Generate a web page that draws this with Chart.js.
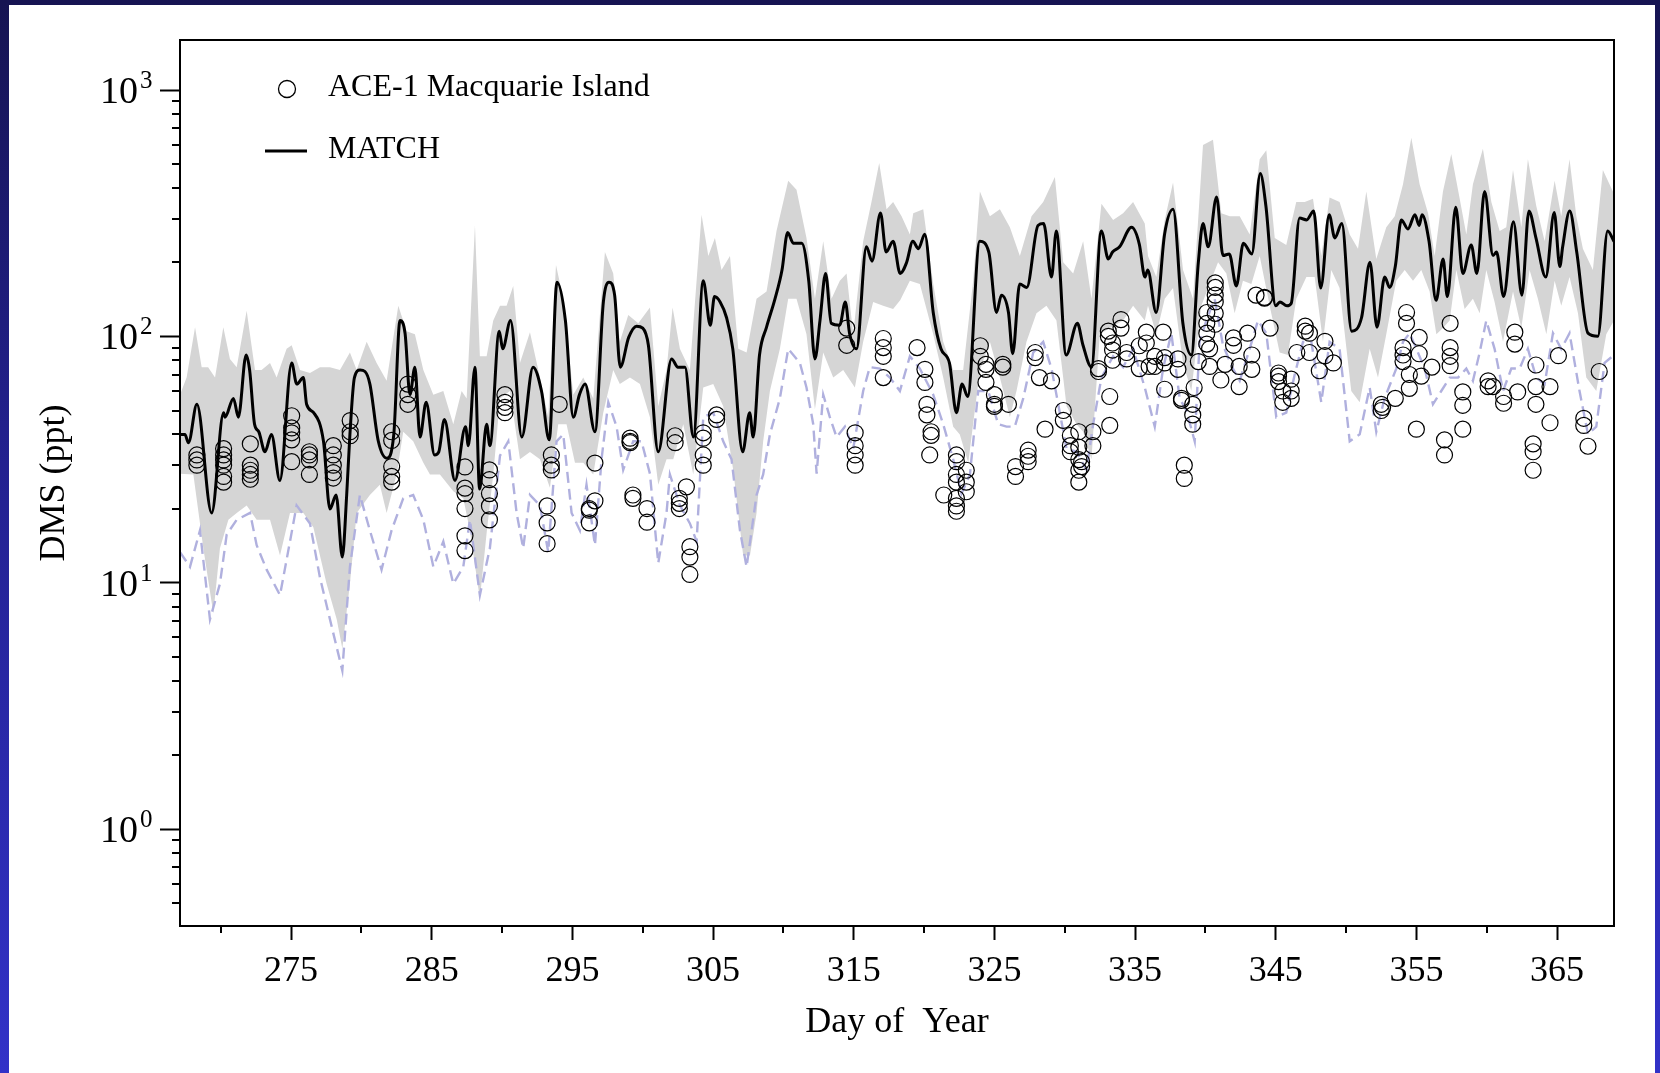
<!DOCTYPE html>
<html>
<head>
<meta charset="utf-8">
<title>DMS at Macquarie Island</title>
<script src="https://cdn.jsdelivr.net/npm/chart.js@4.4.1/dist/chart.umd.min.js"></script>
<style>
  html, body { margin: 0; padding: 0; }
  body {
    width: 1660px; height: 1073px; overflow: hidden; position: relative;
    background: linear-gradient(to bottom, #161452 0%, #22208c 40%, #3232c8 100%);
  }
  #panel { position: absolute; left: 9px; top: 5px; width: 1646px; height: 1068px; background: #fff; }
  canvas { display: block; }
</style>
</head>
<body>
<div id="panel"><canvas id="dms-chart" width="1646" height="1068"></canvas></div>
<script>
// axis ranges and ticks
const xMin = 267.1
const xMax = 369.05
const yMin = 0.404
const yMax = 1596
const dayTicks = [275, 285, 295, 305, 315, 325, 335, 345, 355, 365]
const dayMinorTicks = [270, 280, 290, 300, 310, 320, 330, 340, 350, 360]
const dmsTicks = [1, 10, 100, 1000]
const dmsTickExponents = ['0', '1', '2', '3']
const dmsMinorTicks = [0.5, 0.6, 0.7, 0.8, 0.9, 2, 3, 4, 5, 6, 7, 8, 9,
  20, 30, 40, 50, 60, 70, 80, 90, 200, 300, 400, 500, 600, 700, 800, 900]
const legendLabels = ['ACE-1 Macquarie Island', 'MATCH']

// MATCH model DMS, [day of year, ppt]
const matchModel = [
  [267.1, 40], [267.45, 40], [267.7, 37], [268.3, 53], [269.35, 19.2], [270.2, 49], [270.3, 47], [270.9, 56],
  [271.25, 47], [271.8, 84], [272.05, 73], [272.4, 44], [272.7, 41], [273.14, 34], [273.6, 40], [274.2, 26],
  [275.04, 78], [275.4, 64], [275.87, 68], [276.1, 53], [276.6, 49], [277.3, 37.5], [277.76, 19.9], [278.2, 22.7],
  [278.64, 12.7], [278.95, 22.7], [279.18, 40], [279.5, 68], [279.9, 73], [280.25, 72], [280.6, 64], [281.2, 37.5],
  [281.8, 32], [282.3, 40], [282.74, 116], [283.1, 103], [283.45, 58], [283.8, 75], [284.16, 39], [284.6, 54],
  [285.2, 33], [285.5, 34], [285.9, 46], [286.65, 26], [287.4, 43], [287.6, 36], [288.07, 75], [288.4, 24],
  [288.9, 44], [289.13, 36], [289.8, 105], [290.04, 89], [290.6, 116], [291.4, 39], [292.2, 75], [292.8, 60],
  [293.35, 38], [293.9, 166], [294.5, 116], [295.06, 47], [295.5, 58], [295.9, 64], [296.6, 41], [297.2, 138],
  [297.6, 166], [298.0, 147], [298.4, 75], [299.0, 99], [299.56, 110], [300.0, 108], [300.4, 92], [301.1, 34],
  [302.05, 81], [302.5, 75], [303.0, 75], [303.6, 39], [304.3, 168], [304.8, 111], [305.1, 145], [305.5, 138],
  [305.96, 119], [306.4, 89], [307.1, 34], [307.6, 49], [307.85, 39], [308.3, 84], [308.8, 109], [309.4, 142],
  [309.9, 186], [310.3, 264], [310.7, 239], [311.3, 239], [311.8, 168], [312.24, 81], [312.6, 116], [313.0, 180],
  [313.4, 113], [314.0, 111], [314.4, 138], [314.7, 103], [315.2, 89], [315.9, 231], [316.3, 202], [316.9, 317],
  [317.3, 220], [317.8, 243], [318.3, 180], [318.75, 199], [319.2, 243], [319.6, 227], [320.05, 260], [320.65, 125],
  [321.2, 89], [321.8, 78], [322.3, 49], [322.7, 64], [323.1, 57], [323.96, 243], [324.6, 220], [325.15, 125],
  [325.5, 147], [326.0, 125], [326.3, 85], [326.8, 163], [327.3, 158], [328.1, 282], [328.5, 287], [329.06, 174],
  [329.4, 268], [330.1, 84], [330.9, 113], [331.3, 92], [331.9, 75], [332.6, 268], [333.1, 206], [333.4, 220],
  [333.9, 231], [334.75, 277], [335.3, 237], [335.7, 174], [335.9, 186], [336.5, 125], [337.1, 260], [337.7, 328],
  [338.4, 113], [339.0, 84], [339.5, 200], [339.83, 287], [340.2, 231], [340.8, 368], [341.25, 213], [341.7, 216],
  [342.2, 160], [342.7, 239], [343.3, 216], [343.9, 458], [344.3, 339], [345.0, 133], [345.3, 138], [345.8, 133],
  [346.1, 136], [346.7, 302], [347.2, 297], [347.7, 323], [348.2, 157], [348.8, 312], [349.2, 251], [349.7, 287],
  [350.4, 105], [351.1, 119], [351.7, 200], [352.2, 109], [352.75, 174], [353.1, 158], [353.5, 192], [353.93, 297],
  [354.4, 273], [354.9, 312], [355.2, 282], [355.4, 312], [355.9, 243], [356.4, 140], [356.9, 206], [357.2, 145],
  [357.8, 334], [358.3, 180], [358.9, 235], [359.3, 180], [359.85, 387], [360.45, 213], [360.7, 220], [361.2, 145],
  [361.9, 292], [362.5, 147], [363.0, 323], [363.5, 251], [364.2, 174], [364.8, 318], [365.2, 192], [365.4, 231],
  [365.9, 323], [366.4, 220], [367.2, 103], [367.9, 100], [368.6, 268], [369.05, 243]
]

// grey range, upper and lower edges
const rangeUpper = [
  [267.1, 58], [267.57, 68], [268.17, 109], [268.64, 75], [269.1, 75], [269.59, 68], [270.18, 109], [270.65, 81],
  [271.13, 75], [271.84, 127], [272.43, 73], [272.9, 73], [273.5, 78], [273.97, 68], [274.68, 89], [275.04, 92],
  [275.63, 73], [276.34, 71], [277.05, 75], [277.76, 75], [278.47, 73], [279.18, 86], [279.66, 73], [280.37, 95],
  [281.08, 78], [281.79, 66], [282.62, 133], [283.21, 105], [283.8, 102], [284.4, 73], [285.11, 58], [285.82, 60],
  [286.53, 44], [287.12, 60], [287.48, 56], [288.07, 282], [288.42, 83], [288.9, 83], [289.37, 116], [289.85, 133],
  [290.32, 133], [290.79, 160], [291.27, 78], [291.98, 104], [292.69, 68], [293.28, 47], [293.83, 195], [294.35, 142],
  [295.06, 58], [295.77, 68], [296.48, 56], [297.31, 220], [297.9, 180], [298.37, 95], [298.97, 122], [299.68, 113],
  [300.51, 131], [301.1, 52], [301.69, 73], [302.12, 131], [302.64, 89], [303.35, 73], [304.18, 312], [304.66, 212],
  [305.13, 251], [305.6, 186], [306.2, 212], [306.79, 89], [307.38, 86], [308.09, 142], [308.8, 152], [309.51, 268],
  [310.34, 428], [310.93, 394], [311.64, 251], [312.24, 142], [312.83, 243], [313.42, 142], [314.01, 168], [314.49, 180],
  [314.96, 102], [315.67, 243], [316.26, 351], [316.81, 506], [317.33, 328], [317.8, 351], [318.4, 307], [318.99, 259],
  [319.23, 316], [319.94, 328], [320.65, 163], [321.36, 95], [322.07, 73], [322.78, 73], [323.49, 168], [323.97, 387],
  [324.68, 307], [325.39, 328], [326.1, 277], [326.81, 212], [327.64, 307], [328.47, 351], [329.3, 443], [329.89, 200],
  [330.6, 180], [331.31, 243], [331.9, 142], [332.61, 345], [333.44, 297], [334.15, 316], [334.86, 351], [335.69, 287],
  [335.92, 212], [336.51, 174], [337.11, 297], [337.7, 421], [338.41, 186], [339.12, 142], [339.83, 598], [340.54, 628],
  [341.13, 316], [341.73, 307], [342.44, 307], [343.15, 259], [343.86, 524], [344.33, 569], [344.93, 251], [345.75, 235],
  [346.46, 351], [347.06, 351], [347.65, 362], [348.24, 212], [348.83, 366], [349.54, 351], [350.26, 259], [350.85, 227],
  [351.44, 387], [352.15, 206], [352.86, 277], [353.46, 307], [354.05, 414], [354.64, 640], [355.23, 414], [355.83, 316],
  [356.3, 212], [356.89, 387], [357.48, 550], [358.08, 362], [358.55, 259], [359.02, 414], [359.73, 578], [360.33, 351],
  [360.92, 268], [361.39, 277], [361.87, 473], [362.46, 277], [362.93, 524], [363.52, 339], [364.12, 243], [364.83, 428],
  [365.3, 307], [365.89, 524], [366.37, 307], [366.84, 227], [367.55, 186], [368.26, 473], [368.97, 387], [369.05, 387]
]
const rangeLower = [
  [267.1, 27.7], [268.05, 27.5], [268.76, 13.8], [269.47, 7.5], [269.94, 13.8], [270.54, 18], [271.13, 19.2], [271.84, 20.6],
  [272.55, 18], [273.5, 18], [274.21, 12.9], [274.92, 19.2], [275.87, 19.2], [276.58, 16.8], [277.52, 9.9], [278.24, 7.1],
  [278.64, 5.4], [279.18, 9.9], [279.66, 19.2], [280.6, 22.7], [281.31, 25], [281.79, 19.2], [282.5, 27.5], [282.97, 41],
  [283.68, 37.5], [284.4, 30.7], [284.87, 27.5], [285.58, 27.5], [286.53, 23.5], [287.24, 22], [287.71, 16.3], [288.42, 8.6],
  [288.9, 15.9], [289.37, 27.5], [289.85, 56], [290.56, 60], [291.27, 31.7], [291.98, 33.9], [292.69, 31.7], [293.4, 24.3],
  [293.99, 44], [294.58, 44], [295.18, 30.7], [295.77, 30.7], [296.48, 27.5], [297.19, 49], [297.9, 73], [298.37, 64],
  [299.09, 68], [299.8, 64], [300.51, 47], [301.1, 25], [301.69, 31.7], [302.17, 31.7], [302.88, 44], [303.59, 27.5],
  [304.3, 62], [305.01, 64], [305.72, 52], [306.43, 28.7], [307.14, 12.9], [307.62, 12.9], [308.09, 19.2], [308.56, 37.5],
  [309.04, 60], [309.75, 89], [310.34, 142], [310.93, 142], [311.64, 102], [312.24, 50.6], [312.83, 86], [313.54, 68],
  [314.25, 73], [315.08, 62], [315.67, 95], [316.38, 138], [317.09, 133], [317.8, 129], [318.3, 140], [318.99, 168],
  [319.7, 163], [320.65, 102], [321.36, 68], [322.07, 43], [322.54, 40], [323.14, 30.7], [323.97, 73], [324.68, 95],
  [325.39, 68], [326.1, 47], [326.57, 60], [327.28, 95], [327.99, 124], [328.7, 133], [329.41, 116], [330.13, 52],
  [330.84, 44], [331.31, 41], [331.9, 31.7], [332.49, 102], [333.2, 108], [334.15, 116], [334.86, 133], [335.69, 116],
  [335.92, 133], [336.51, 102], [337.11, 142], [337.7, 157], [338.41, 78], [339.0, 60], [339.71, 133], [340.3, 163],
  [340.9, 200], [341.49, 180], [342.08, 124], [342.67, 168], [343.27, 163], [343.86, 212], [344.57, 133], [345.28, 86],
  [345.87, 84], [346.46, 142], [347.18, 174], [347.77, 174], [348.36, 95], [348.95, 186], [349.54, 157], [350.37, 60],
  [350.97, 54], [351.68, 89], [352.27, 68], [352.86, 102], [353.57, 168], [354.17, 186], [354.76, 168], [355.35, 186],
  [355.94, 152], [356.42, 102], [356.89, 108], [357.37, 116], [357.84, 186], [358.43, 129], [359.02, 142], [359.5, 124],
  [359.97, 186], [360.56, 138], [361.16, 95], [361.87, 152], [362.46, 108], [363.05, 186], [363.64, 142], [364.24, 102],
  [364.83, 168], [365.3, 133], [365.89, 174], [366.49, 124], [367.08, 68], [367.79, 60], [368.5, 102], [369.05, 116]
]

// dashed lower model curve
const modelDashed = [
  [267.1, 13.3], [267.81, 11.6], [268.52, 16.3], [269.23, 7.1], [269.94, 9.9], [270.42, 15.7], [271.13, 18], [272.08, 19.2],
  [272.55, 14.2], [273.26, 11.3], [274.21, 8.9], [274.92, 14.7], [275.39, 20.6], [276.34, 17.4], [277.05, 10.5], [277.76, 7.1],
  [278.64, 4.4], [279.18, 11.6], [279.89, 22.7], [280.6, 16.3], [281.43, 11.3], [282.14, 16.3], [282.97, 22], [283.68, 22.7],
  [284.4, 18], [285.11, 11.6], [285.82, 14.7], [286.53, 9.9], [287.24, 11.6], [287.71, 18], [288.42, 8.9], [289.13, 13.8],
  [289.85, 32.8], [290.44, 37.5], [291.03, 19.2], [291.5, 13.8], [291.98, 22.7], [292.69, 20.6], [293.28, 13.3], [293.87, 37.5],
  [294.35, 40], [294.94, 19.2], [295.53, 16.3], [296.0, 25], [296.6, 14.2], [297.07, 31.7], [297.55, 54], [298.14, 43],
  [298.61, 28.7], [299.32, 37.5], [299.91, 37.5], [300.51, 27.7], [301.1, 12], [301.69, 19.2], [301.93, 27.5], [302.64, 20.6],
  [303.35, 17.4], [303.83, 14.7], [304.3, 47], [305.01, 49], [305.72, 37.5], [306.31, 31.7], [306.91, 16.3], [307.38, 11.6],
  [308.09, 22.7], [308.56, 27.5], [309.04, 40], [309.75, 56], [310.34, 89], [311.17, 78], [311.64, 62], [312.12, 44],
  [312.36, 27.7], [312.83, 58], [313.3, 47], [313.78, 39], [314.37, 43], [314.96, 35], [315.67, 60], [316.14, 75],
  [316.86, 74], [317.57, 68], [318.28, 60], [318.99, 83], [319.7, 74], [320.65, 58], [321.36, 44], [322.07, 31.7],
  [322.66, 23], [323.26, 27.5], [323.85, 60], [324.56, 60], [325.27, 44], [325.86, 43], [326.45, 43], [327.05, 56],
  [327.76, 86], [328.47, 95], [329.06, 74], [329.65, 49], [330.13, 35], [330.84, 34], [331.55, 28.7], [332.02, 44],
  [332.61, 68], [333.44, 83], [334.15, 75], [334.86, 89], [335.69, 62], [336.4, 43], [336.99, 74], [337.58, 103],
  [338.17, 56], [338.65, 50], [339.24, 37.5], [339.59, 95], [340.07, 116], [340.66, 142], [341.25, 92], [341.96, 74],
  [342.44, 66], [343.15, 89], [343.74, 116], [344.33, 103], [345.04, 47], [345.75, 49], [346.35, 70], [346.94, 95],
  [347.53, 95], [348.24, 54], [348.83, 95], [349.54, 89], [350.26, 37.5], [350.97, 40], [351.68, 62], [352.15, 41],
  [352.74, 56], [353.57, 74], [354.05, 95], [354.52, 103], [355.0, 89], [355.59, 74], [356.18, 53], [356.77, 60],
  [357.37, 68], [357.96, 68], [358.55, 74], [359.02, 66], [359.5, 86], [359.97, 116], [360.56, 89], [361.16, 60],
  [361.75, 74], [362.34, 74], [362.93, 89], [363.52, 68], [364.12, 64], [364.71, 103], [365.3, 89], [365.89, 103],
  [366.6, 60], [367.2, 40], [367.79, 43], [368.38, 78], [369.05, 84]
]

// ACE-1 Macquarie Island observations, [day of year, ppt]
const aceObs = [
  [268.3, 33], [268.3, 31.5], [268.3, 30],
  [270.2, 35], [270.2, 33], [270.2, 31.5], [270.2, 30], [270.2, 27], [270.2, 25.6],
  [272.1, 36.6], [272.1, 30], [272.1, 28.6], [272.1, 27.5], [272.1, 26.3],
  [275.04, 47.6], [275.04, 42.5], [275.04, 40.6], [275.04, 38], [275.04, 31],
  [276.3, 34], [276.3, 33], [276.3, 31.5], [276.3, 27.5],
  [278.0, 36], [278.0, 33], [278.0, 30], [278.0, 28], [278.0, 26.6],
  [279.2, 45.5], [279.2, 41], [279.2, 39.5],
  [282.15, 41], [282.15, 37.8], [282.15, 29.6], [282.15, 27], [282.15, 25.6],
  [283.3, 64], [283.3, 58], [283.3, 53],
  [287.36, 29.5], [287.36, 24.2], [287.36, 23], [287.36, 20], [287.36, 15.5], [287.36, 13.5],
  [289.1, 28.7], [289.1, 26.2], [289.1, 23], [289.1, 20.5], [289.1, 18],
  [290.2, 58], [290.2, 54], [290.2, 51.5], [290.2, 49],
  [293.5, 33], [293.5, 30], [293.5, 28.7], [293.2, 20.5], [293.2, 17.5], [293.2, 14.4], [294.06, 53],
  [296.6, 30.6], [296.2, 20], [296.2, 19.7], [296.2, 17.5], [296.6, 21.5],
  [299.1, 38.6], [299.1, 37.5], [299.1, 37], [299.3, 22.7], [299.3, 22], [300.3, 20], [300.3, 17.6],
  [302.3, 39.5], [302.3, 37], [302.6, 22], [302.6, 21], [302.6, 20], [303.1, 24.5],
  [303.35, 14], [303.35, 12.7], [303.35, 10.8],
  [304.3, 40.6], [304.3, 38.6], [304.3, 33], [304.3, 30], [305.25, 48], [305.25, 46],
  [314.5, 108], [314.5, 92], [315.1, 40.6], [315.1, 36], [315.1, 33], [315.1, 30],
  [317.1, 68], [317.1, 83], [317.1, 90], [317.1, 98],
  [319.5, 90], [320.06, 73.5], [320.06, 65], [320.2, 53], [320.2, 48], [320.5, 41], [320.5, 39.6], [320.4, 33], [321.4, 22.7],
  [322.3, 33], [322.3, 31], [322.3, 27.5], [322.3, 25.6], [322.3, 22], [322.3, 20.5], [322.3, 19.5],
  [323.0, 28.6], [323.0, 25.6], [323.0, 23.4],
  [324.0, 91.6], [324.0, 83], [324.4, 77], [324.4, 73.5], [324.4, 65],
  [325.0, 58], [325.0, 53], [325.0, 52], [325.6, 77], [325.6, 75], [326.0, 53],
  [326.5, 29.6], [326.5, 27], [327.4, 34.5], [327.4, 32.6], [327.4, 31],
  [327.9, 86], [327.9, 82], [328.2, 68], [329.06, 66], [328.6, 42],
  [329.9, 50], [329.9, 45.6], [330.4, 39.6], [330.4, 36], [330.4, 34],
  [331.0, 41], [331.0, 35.5], [331.0, 31.6], [331.0, 28.6], [331.0, 25.6], [331.2, 31], [331.2, 29.6],
  [332.0, 41], [332.0, 36], [332.4, 74], [332.4, 72],
  [333.1, 105], [333.1, 100], [333.2, 57], [333.2, 43.5], [334.0, 117], [334.0, 108],
  [333.4, 94], [333.4, 88], [333.4, 80], [334.4, 86], [334.4, 81],
  [335.3, 91.6], [335.3, 74], [335.8, 104], [335.8, 94], [336.0, 75.5], [337.0, 104], [336.4, 83], [336.4, 75.5],
  [337.1, 82], [337.1, 78], [337.1, 61], [338.05, 81], [338.05, 73.5], [338.3, 56], [338.3, 55],
  [339.1, 53], [339.1, 48], [339.1, 44], [339.2, 62], [338.5, 30], [338.5, 26.5], [339.5, 79],
  [340.1, 125], [340.1, 113], [340.1, 103], [340.1, 93],
  [340.7, 165], [340.7, 158], [340.7, 147], [340.7, 138], [340.7, 124], [340.7, 112],
  [340.3, 89], [340.3, 75.5], [341.1, 66.5], [341.4, 77], [342.0, 98.6], [342.0, 92],
  [342.4, 75.5], [342.4, 62.5], [343.0, 103], [343.3, 84], [343.3, 73.5],
  [343.6, 147], [344.2, 144], [344.2, 143], [344.6, 108],
  [345.2, 71], [345.2, 69], [345.2, 65.5], [345.5, 60], [345.5, 54], [346.1, 67], [346.1, 60], [346.1, 56], [346.5, 86],
  [347.1, 110], [347.1, 105], [347.4, 103], [347.4, 86], [348.5, 95.5], [348.5, 83.5], [348.1, 72.5], [349.1, 78],
  [352.5, 53], [352.5, 50], [352.6, 51.5], [353.5, 56],
  [354.3, 125], [354.3, 113], [354.05, 90], [354.05, 84], [354.05, 79], [354.5, 70], [354.5, 61.5], [355.0, 42],
  [355.2, 99], [355.2, 85], [355.35, 69], [356.1, 75], [357.0, 38], [357.0, 33],
  [357.4, 113], [357.4, 90], [357.4, 83], [357.4, 76], [358.3, 59.5], [358.3, 52.5], [358.3, 42],
  [360.1, 66], [360.1, 62.5], [360.45, 62.5], [361.2, 57], [361.2, 53.5],
  [362.0, 104], [362.0, 93], [362.2, 59.5], [363.3, 36.6], [363.3, 34], [363.3, 28.6],
  [363.5, 76.5], [363.5, 62.5], [363.5, 53], [364.5, 62.5], [364.5, 44.6], [365.1, 83.5],
  [366.9, 46.5], [366.9, 43.5], [367.2, 35.8], [368.0, 72]
]

const serif = "'Liberation Serif', 'Times New Roman', serif"
const toXY = pairs => pairs.map(([x, y]) => ({x: x, y: y}))

// frame, minor ticks, superscript y labels and the legend
const axisDecor = {
  id: 'axisDecor',
  afterDraw(chart) {
    const {ctx, chartArea: area, scales: {x, y}} = chart
    ctx.save()
    ctx.strokeStyle = '#000'
    ctx.fillStyle = '#000'
    ctx.lineWidth = 2
    ctx.strokeRect(area.left, area.top, area.right - area.left, area.bottom - area.top)

    ctx.beginPath()
    dmsMinorTicks.forEach(v => {
      const py = Math.round(y.getPixelForValue(v))
      ctx.moveTo(area.left - 8, py)
      ctx.lineTo(area.left, py)
    })
    dayMinorTicks.forEach(d => {
      const px = Math.round(x.getPixelForValue(d))
      ctx.moveTo(px, area.bottom)
      ctx.lineTo(px, area.bottom + 7)
    })
    ctx.stroke()

    ctx.textBaseline = 'alphabetic'
    dmsTicks.forEach((v, i) => {
      const py = y.getPixelForValue(v)
      ctx.font = `38px ${serif}`
      ctx.textAlign = 'right'
      ctx.fillText('10', area.left - 42, py + 13)
      ctx.font = `25px ${serif}`
      ctx.textAlign = 'left'
      ctx.fillText(dmsTickExponents[i], area.left - 40, py - 2)
    })

    // legend, top left inside the plot
    ctx.font = `32px ${serif}`
    ctx.textAlign = 'left'
    ctx.textBaseline = 'middle'
    ctx.lineWidth = 1.3
    ctx.beginPath()
    ctx.arc(area.left + 107, area.top + 49, 8.5, 0, Math.PI * 2)
    ctx.stroke()
    ctx.fillText(legendLabels[0], area.left + 148, area.top + 48)
    ctx.lineWidth = 3
    ctx.beginPath()
    ctx.moveTo(area.left + 85, area.top + 111)
    ctx.lineTo(area.left + 127, area.top + 111)
    ctx.stroke()
    ctx.fillText(legendLabels[1], area.left + 148, area.top + 110)
    ctx.restore()
  }
}

const ctx = document.getElementById('dms-chart').getContext('2d')
const chart = new Chart(ctx, {
  type: 'line',
  data: {
    datasets: [
      {
        label: 'model range',
        data: toXY(rangeUpper),
        fill: '+1',
        backgroundColor: 'rgb(213, 213, 213)',
        borderColor: 'rgba(0, 0, 0, 0)',
        borderWidth: 0,
        pointRadius: 0,
        order: 4
      },
      {
        label: 'model range low',
        data: toXY(rangeLower),
        fill: false,
        borderColor: 'rgba(0, 0, 0, 0)',
        borderWidth: 0,
        pointRadius: 0,
        order: 4
      },
      {
        label: 'model low',
        data: toXY(modelDashed),
        borderColor: 'rgb(176, 176, 222)',
        borderWidth: 2.4,
        borderDash: [11, 6],
        pointRadius: 0,
        fill: false,
        order: 3
      },
      {
        label: legendLabels[1],
        data: toXY(matchModel),
        borderColor: '#000',
        borderWidth: 3,
        cubicInterpolationMode: 'monotone',
        pointRadius: 0,
        fill: false,
        order: 2
      },
      {
        label: legendLabels[0],
        data: toXY(aceObs),
        showLine: false,
        pointStyle: 'circle',
        pointRadius: 8,
        pointBorderWidth: 1.2,
        pointBorderColor: '#000',
        pointBackgroundColor: 'rgba(0, 0, 0, 0)',
        order: 1
      }
    ]
  },
  options: {
    responsive: false,
    animation: false,
    events: [],
    layout: { padding: { top: 35, right: 41, left: 0, bottom: 0 } },
    plugins: {
      legend: { display: false },
      tooltip: { enabled: false }
    },
    scales: {
      x: {
        type: 'linear',
        min: xMin,
        max: xMax,
        afterBuildTicks: s => { s.ticks = dayTicks.map(v => ({value: v})) },
        afterFit: s => { s.height = 147 },
        grid: { drawOnChartArea: false, drawTicks: true, tickLength: 14, tickWidth: 2, tickColor: '#000' },
        border: { display: true, color: '#000', width: 2 },
        ticks: {
          autoSkip: false,
          maxRotation: 0,
          padding: 10,
          color: '#000',
          font: { family: serif, size: 36 },
          callback: v => String(v)
        },
        title: {
          display: true,
          text: 'Day of  Year',
          color: '#000',
          font: { family: serif, size: 36 },
          padding: { top: 0, bottom: 29 }
        }
      },
      y: {
        type: 'logarithmic',
        min: yMin,
        max: yMax,
        afterBuildTicks: s => { s.ticks = dmsTicks.map(v => ({value: v})) },
        afterFit: s => { s.width = 171 },
        grid: { drawOnChartArea: false, drawTicks: true, tickLength: 20, tickWidth: 2, tickColor: '#000' },
        border: { display: true, color: '#000', width: 2 },
        ticks: { display: false },
        title: {
          display: true,
          text: 'DMS (ppt)',
          color: '#000',
          font: { family: serif, size: 36 },
          padding: { top: 24, bottom: 0 }
        }
      }
    }
  },
  plugins: [axisDecor]
})
</script>
</body>
</html>
